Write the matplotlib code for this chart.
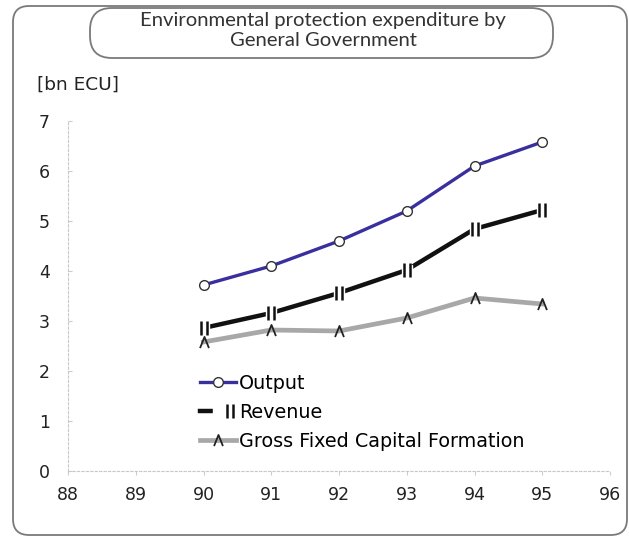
import matplotlib
matplotlib.use("Agg")
import matplotlib.pyplot as plt
from matplotlib.patches import FancyBboxPatch
from matplotlib.path import Path
from matplotlib.lines import Line2D
from matplotlib.legend_handler import HandlerTuple

years = [90, 91, 92, 93, 94, 95]
output = [3.72, 4.10, 4.60, 5.20, 6.10, 6.58]
revenue = [2.86, 3.16, 3.56, 4.02, 4.84, 5.22]
gfcf = [2.58, 2.82, 2.80, 3.06, 3.46, 3.34]
xticks = [88, 89, 90, 91, 92, 93, 94, 95, 96]
yticks = [0, 1, 2, 3, 4, 5, 6, 7]

plt.rcParams['font.family'] = ['DejaVu Sans']

W, H = 629, 538
fig = plt.figure(figsize=(W / 100, H / 100), dpi=100)
fig.patch.set_facecolor('white')

def fx(px):
    return px / W

def fy(py):
    return 1 - py / H

# boxes drawn in inch units (px / 100), y measured from bottom
def box_in(x0, y0, x1, y1, r, z, fc):
    p = FancyBboxPatch((x0 / 100, (H - y1) / 100), (x1 - x0) / 100, (y1 - y0) / 100,
                       boxstyle=f"round,pad=0,rounding_size={r / 100}",
                       transform=fig.dpi_scale_trans, facecolor=fc,
                       edgecolor='#7a7a7a', linewidth=1.3, zorder=z)
    fig.patches.append(p)

box_in(13, 6, 627, 535, 16, -2, 'none')
box_in(90, 8, 553, 58, 22, -1, 'white')

fig.text(fx(323), fy(30.5), "Environmental protection expenditure by\nGeneral Government",
         ha='center', va='center', fontsize=14.6, color='#333333',
         family=['Lato', 'DejaVu Sans'], linespacing=1.15)

fig.text(fx(37), fy(85), "[bn ECU]", ha='left', va='center', fontsize=13.3, color='#222222')

ax = fig.add_axes([fx(68), fy(471), fx(610) - fx(68), fy(121) - fy(471)])
ax.set_facecolor('none')

bar_marker = Path([(-0.5, -1), (-0.5, 1), (0.5, -1), (0.5, 1)],
                  [Path.MOVETO, Path.LINETO, Path.MOVETO, Path.LINETO])
caret_marker = Path([(-0.8, -1), (0, 1), (0.8, -1)],
                    [Path.MOVETO, Path.LINETO, Path.LINETO])

ax.plot(years, output, color='#3a2f9e', lw=2.4, marker='o', ms=7,
        mfc='white', mec='#333333', mew=1.0, zorder=4)
ax.plot(years, revenue, color='#111111', lw=3.2, zorder=3)
ax.plot(years, revenue, ls='none', marker='s', ms=6.5, mfc='white', mec='white',
        zorder=3.5)
ax.plot(years, revenue, ls='none', marker=bar_marker, ms=10, mfc='none',
        mec='#111111', mew=1.8, zorder=3.6)
ax.plot(years, gfcf, color='#a8a8a8', lw=3.4, marker=caret_marker, ms=8,
        mfc='none', mec='#222222', mew=1.3, zorder=2)

ax.set_xlim(88, 96)
ax.set_ylim(0, 7)
ax.set_xticks(xticks)
ax.set_yticks(yticks)
ax.tick_params(axis='both', labelsize=12.5, colors='#cccccc', labelcolor='#222222',
               length=3, width=0.8)
ax.tick_params(axis='y', pad=13, direction='in')
ax.tick_params(axis='x', pad=8, direction='out')
for s in ['top', 'right']:
    ax.spines[s].set_visible(False)
for s in ['left', 'bottom']:
    ax.spines[s].set_color('#c8c8c8')
    ax.spines[s].set_linestyle((0, (2, 2)))
    ax.spines[s].set_linewidth(0.8)

h_out = Line2D([], [], color='#3a2f9e', lw=2.4, marker='o', ms=7, mfc='white',
               mec='#333333', mew=1.0)
h_rev_line = Line2D([], [], color='#111111', lw=3.2)
h_rev_gap = Line2D([], [], ls='none', marker='s', ms=6.5, mfc='white', mec='white')
h_rev_bar = Line2D([], [], ls='none', marker=bar_marker, ms=10, mfc='none',
                   mec='#111111', mew=1.8)
h_gf = Line2D([], [], color='#a8a8a8', lw=3.4, marker=caret_marker, ms=8,
              mfc='none', mec='#222222', mew=1.3)
axw = 610 - 68
ax.legend([h_out, (h_rev_line, h_rev_gap, h_rev_bar), h_gf],
          ['Output', 'Revenue', 'Gross Fixed Capital Formation'],
          handler_map={tuple: HandlerTuple(ndivide=None, pad=0)},
          loc='upper left', bbox_to_anchor=((200 - 68) / axw, (471 - 374) / 350),
          frameon=False, fontsize=13.8, handlelength=1.9, handletextpad=0.15,
          labelspacing=0.52, borderpad=0, borderaxespad=0)

fig.savefig('out.png', dpi=100, facecolor='white')
